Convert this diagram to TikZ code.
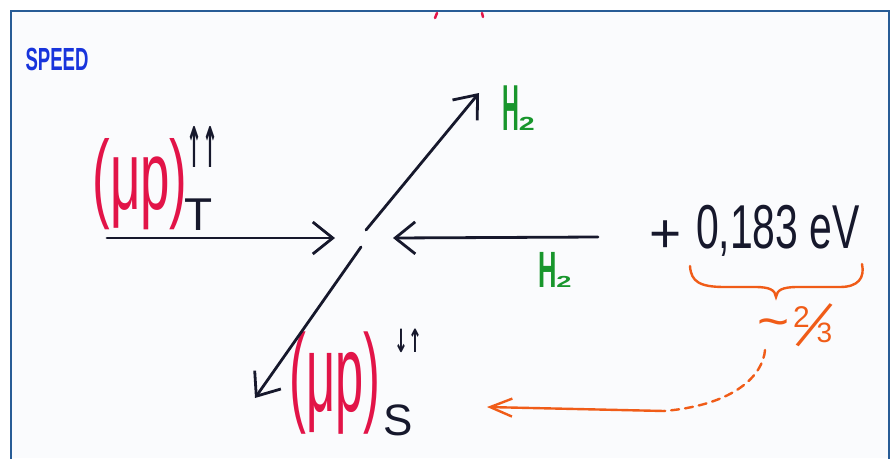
\documentclass[tikz,border=0pt]{standalone}
\usepackage{fontspec}
\usepackage{graphicx}
\setmainfont{Liberation Sans}
\newfontfamily\arrowfont{DejaVu Sans}
\usetikzlibrary{arrows.meta}
\definecolor{ink}{RGB}{22,24,44}
\definecolor{penred}{RGB}{226,20,72}
\definecolor{pengreen}{RGB}{24,150,44}
\definecolor{penblue}{RGB}{24,52,220}
\definecolor{penorange}{RGB}{240,92,24}
\definecolor{framec}{RGB}{40,92,150}
\definecolor{paper}{RGB}{250,251,253}
\newcommand{\hwx}[2]{\scalebox{#1}[1]{#2}}
\newcommand{\fsz}[1]{\fontsize{#1}{#1}\selectfont}
\begin{document}
\begin{tikzpicture}[x=1pt,y=-1pt,
  lbl/.style={inner sep=0pt,outer sep=0pt},
  inkarrow/.style={draw=ink,line width=2.8pt,line cap=round,
    -{Straight Barb[length=20pt,width=32pt]}},
  orangeline/.style={draw=penorange,line width=2.4pt,line cap=round}]
\useasboundingbox (0,0) rectangle (894,458);
\fill[white] (0,0) rectangle (894,458);
\fill[paper] (11,11) rectangle (889,458);
\draw[framec,line width=2.5pt] (11,460) -- (11,11) -- (889,11) -- (889,460);
% red marks cut at top
\draw[penred,line width=2.5pt,line cap=round] (437,13) -- (435,18);
\draw[penred,line width=2.5pt,line cap=round] (482,13) -- (483,17);

% labels
\node[lbl,penblue,anchor=base] (speed) at (57,70) {\fsz{32}\bfseries\hwx{0.58}{SPEED}};
\node[lbl,pengreen,anchor=base west] (h2a) at (502,130) {\bfseries\fsz{65}\hwx{0.36}{H}\fsz{19}\hwx{1.5}{2}};
\node[lbl,pengreen,anchor=base west] (h2b) at (538,287) {\bfseries\fsz{51}\hwx{0.5}{H}\fsz{16}\hwx{1.7}{2}};
\node[lbl,penred] (muT) at (140,184) {\fsz{98}\hwx{0.54}{(μp)}};
\node[lbl,ink] (spinT) at (202,147) {\arrowfont\bfseries\fsz{56}\hwx{0.34}{↑↑}};
\node[lbl,ink,anchor=base] (subT) at (199,230) {\fsz{46}T};
\node[lbl,penred] (muS) at (335,383) {\fsz{110}\hwx{0.46}{(μp)}};
\node[lbl,ink] (spinS) at (408,341) {\arrowfont\bfseries\fsz{32}\hwx{0.52}{↓↑}};
\node[lbl,ink,anchor=base] (subS) at (398,435) {\fsz{44}S};
\node[lbl,ink] (plus) at (666,237) {\fsz{55}+};
\node[lbl,ink,anchor=base] (val) at (778,248) {\fsz{62}\hwx{0.66}{0,183 eV}};
\node[lbl,penorange,anchor=base west] (frac) at (757,334)
  {\raisebox{-4pt}{\fsz{50}\hwx{1.1}{\textasciitilde}}\hspace*{4pt}\raisebox{7pt}{\fsz{30}2}\hspace*{-14pt}\raisebox{-17pt}{\rotatebox[origin=c]{-30}{\fsz{72}\hwx{0.6}{/}}}\hspace*{-16pt}\raisebox{-8pt}{\fsz{28}3}};

% connector coordinates
\coordinate (aLt) at (107,238); \coordinate (aLh) at (335,238);
\coordinate (aRt) at (598,237); \coordinate (aRh) at (393,238);
\coordinate (dUt) at (366,230); \coordinate (dUh) at (479,93);
\coordinate (dDt) at (361,247); \coordinate (dDh) at (255,398);
\draw[inkarrow] (aLt) -- (aLh);
\draw[inkarrow] (aRt) -- (aRh);
\draw[inkarrow] (dUt) -- (dUh);
\draw[inkarrow] (dDt) -- (dDh);

% brace
\draw[orangeline] (690,266) .. controls (691,282) and (700,287) .. (725,287)
  -- (755,287) .. controls (770,287) and (775,290) .. (776,297)
  .. controls (777,290) and (782,287) .. (798,287) -- (840,287)
  .. controls (858,287) and (865,278) .. (862,264);

% orange connector
\coordinate (oS) at (765,350);
\coordinate (oM) at (664,411);
\coordinate (oE) at (487,407);
\draw[orangeline,dash pattern=on 8pt off 6pt] (oS) .. controls (763,375) and (735,405) .. (oM);
\draw[orangeline,-{Straight Barb[length=22pt,width=18pt]}] (oM) -- (oE);
\end{tikzpicture}
\end{document}
